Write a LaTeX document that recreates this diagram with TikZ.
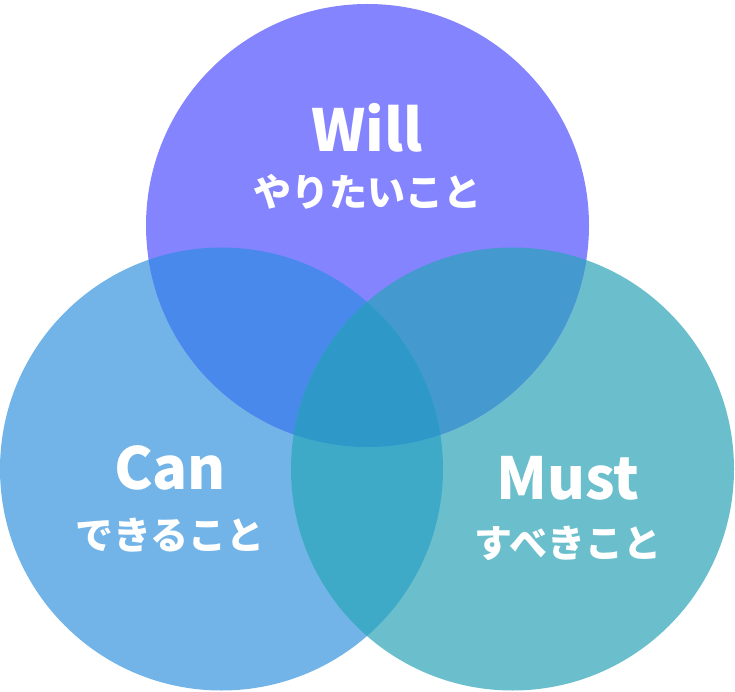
\documentclass[tikz,border=0pt]{standalone}
\usepackage{fontspec}
\setmainfont{Noto Sans CJK JP}
\begin{document}
\begin{tikzpicture}[x=1pt,y=-1pt,
  lab/.style={text=white,font=\bfseries\fontsize{58}{60}\selectfont},
  sub/.style={text=white,font=\bfseries\fontsize{38}{40}\selectfont}]
\useasboundingbox (0,0) rectangle (735,692);
\def\T{(367.5,225.5) circle (221.5)}
\def\L{(221.5,469) circle (221.5)}
\def\R{(512.5,469) circle (221.5)}
\fill[color={rgb,255:red,114;green,180;blue,232}] \L;
\fill[color={rgb,255:red,107;green,191;blue,204}] \R;
\fill[color={rgb,255:red,132;green,132;blue,255}] \T;
\begin{scope}\clip \T; \fill[color={rgb,255:red,74;green,137;blue,236}] \L; \end{scope}
\begin{scope}\clip \T; \fill[color={rgb,255:red,68;green,153;blue,206}] \R; \end{scope}
\begin{scope}\clip \L; \fill[color={rgb,255:red,63;green,170;blue,200}] \R; \end{scope}
\begin{scope}\clip \T; \clip \L; \fill[color={rgb,255:red,46;green,153;blue,200}] \R; \end{scope}
\node[lab] (w) at (367,128) {Will};
\node[sub] (wj) at (367,192) {やりたいこと};
\node[lab] (c) at (170,468) {Can};
\node[sub] (cj) at (170,535) {できること};
\node[lab] (m) at (568,478) {Must};
\node[sub] (mj) at (568,543) {すべきこと};
\end{tikzpicture}
\end{document}
